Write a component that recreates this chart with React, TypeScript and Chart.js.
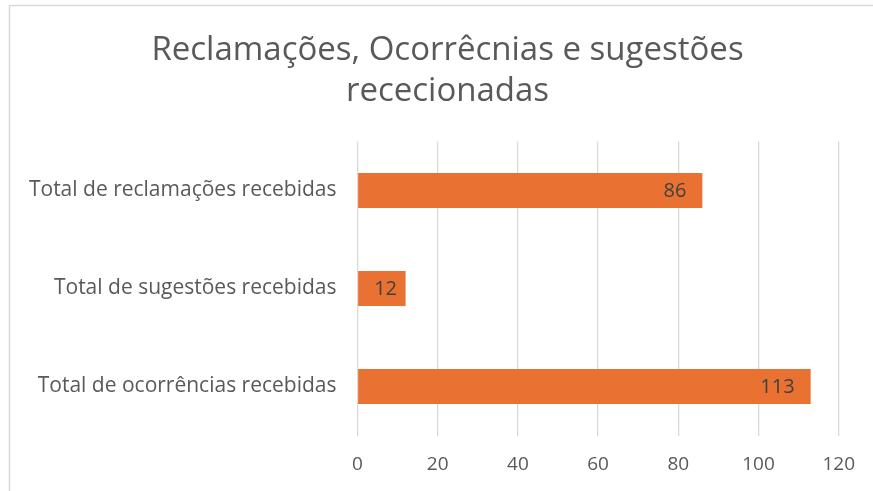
import React, { useEffect, useRef } from "react";
import { Chart, registerables } from "chart.js";

Chart.register(...registerables);

const titleLines = ["Reclamações, Ocorrêcnias e sugestões", "rececionadas"];
const categories = [
  "Total de reclamações recebidas",
  "Total de sugestões recebidas",
  "Total de ocorrências recebidas",
];
const values = [86, 12, 113];
const xMin = 0;
const xMax = 120;
const xStep = 20;

const BAR_COLOR = "#E97132";
const TEXT_COLOR = "#595959";
const LABEL_COLOR = "#404040";
const GRID_COLOR = "#D9D9D9";
const FONT = "'Open Sans', sans-serif";

const framePlugin = {
  id: "frame",
  beforeDraw(chart: any) {
    const { ctx, width, height } = chart;
    ctx.save();
    ctx.fillStyle = "#ffffff";
    ctx.fillRect(0, 0, width, height);
    ctx.strokeStyle = "#D9D9D9";
    ctx.lineWidth = 1.5;
    ctx.beginPath();
    ctx.moveTo(9.5, height + 5);
    ctx.lineTo(9.5, 5.5);
    ctx.lineTo(width + 5, 5.5);
    ctx.stroke();
    ctx.restore();
  },
};

const titlePlugin = {
  id: "customTitle",
  afterDraw(chart: any) {
    const { ctx, width } = chart;
    ctx.save();
    ctx.font = `33px ${FONT}`;
    ctx.fillStyle = TEXT_COLOR;
    ctx.textAlign = "center";
    ctx.textBaseline = "alphabetic";
    const cx = width / 2 + 11;
    ctx.fillText(titleLines[0], cx, 60);
    ctx.fillText(titleLines[1], cx, 101);
    ctx.restore();
  },
};

const dataLabelPlugin = {
  id: "dataLabels",
  afterDatasetsDraw(chart: any) {
    const { ctx } = chart;
    const meta = chart.getDatasetMeta(0);
    const ds = chart.data.datasets[0];
    ctx.save();
    ctx.font = `20px ${FONT}`;
    ctx.fillStyle = LABEL_COLOR;
    ctx.textAlign = "right";
    ctx.textBaseline = "middle";
    meta.data.forEach((bar: any, i: number) => {
      const text = String(ds.data[i]);
      const w = ctx.measureText(text).width;
      const right = Math.max(bar.x - 16, bar.base + 16 + w);
      ctx.fillText(text, right, bar.y + 1);
    });
    ctx.restore();
  },
};

export default function App() {
  const ref = useRef<HTMLCanvasElement>(null);
  useEffect(() => {
    if (!ref.current) return;
    const chart = new Chart(ref.current, {
      type: "bar",
      data: {
        labels: categories,
        datasets: [
          {
            data: values,
            backgroundColor: BAR_COLOR,
            borderWidth: 0,
            barPercentage: 0.355,
            categoryPercentage: 1,
          },
        ],
      },
      options: {
        indexAxis: "y",
        animation: false,
        responsive: false,
        maintainAspectRatio: false,
        layout: { padding: { left: 0, right: 34, top: 141.5, bottom: 0 } },
        plugins: {
          legend: { display: false },
          tooltip: { enabled: false },
          title: { display: false },
        },
        scales: {
          x: {
            min: xMin,
            max: xMax,
            ticks: {
              stepSize: xStep,
              color: TEXT_COLOR,
              font: { family: FONT, size: 19 },
              padding: 18,
            },
            grid: { color: GRID_COLOR, lineWidth: 1.3, drawTicks: false },
            border: { display: false },
            afterFit(scale: any) {
              scale.height = 55.5;
            },
          },
          y: {
            ticks: {
              color: TEXT_COLOR,
              font: { family: FONT, size: 21 },
              padding: 21,
            },
            grid: { display: false, drawTicks: false },
            border: { display: false },
            afterFit(scale: any) {
              scale.width = 357.5;
            },
          },
        },
      },
      plugins: [framePlugin, titlePlugin, dataLabelPlugin],
    });
    return () => chart.destroy();
  }, []);
  return (
    <div style={{ position: "fixed", left: 0, top: 0, width: 873, height: 491 }}>
      <canvas ref={ref} width={873} height={491} style={{ width: 873, height: 491 }} />
    </div>
  );
}
